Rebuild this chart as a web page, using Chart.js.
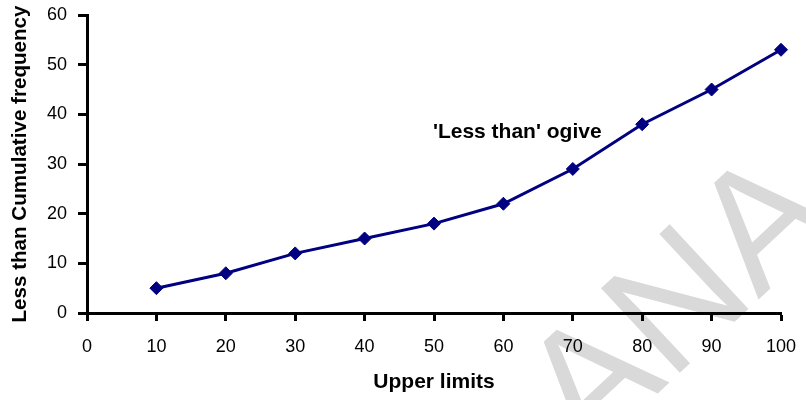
<!DOCTYPE html>
<html>
<head>
<meta charset="utf-8">
<script src="https://cdn.jsdelivr.net/npm/chart.js@4/dist/chart.umd.min.js"></script>
<style>
  html, body { margin: 0; padding: 0; background: #fff; }
  #wrap { width: 806px; height: 400px; }
</style>
</head>
<body>
<div id="wrap"><canvas id="ogive" width="806" height="400"></canvas></div>
<script>
const upperLimits = [10, 20, 30, 40, 50, 60, 70, 80, 90, 100]
const cumFreq = [5, 8, 12, 15, 18, 22, 29, 38, 45, 53]
const xTitle = 'Upper limits'
const yTitle = 'Less than Cumulative frequency'
const noteText = "'Less than' ogive"
const noteAt = { x: 62, y: 35.2 }
const watermark = 'ANA'

const ctx = document.getElementById('ogive')
const fontFam = '"Liberation Sans", Arial, sans-serif'

// grey watermark behind everything
const watermarkPlugin = {
    id: 'watermark',
    beforeDraw(chart) {
        const c = chart.ctx
        c.save()
        c.translate(714, 341)
        c.rotate(-43 * Math.PI / 180)
        c.font = '168px ' + fontFam
        c.fillStyle = '#d9d9d9'
        c.textAlign = 'center'
        c.textBaseline = 'alphabetic'
        c.fillText(watermark, 0, 0)
        c.restore()
    }
}

// the "'Less than' ogive" label
const notePlugin = {
    id: 'note',
    afterDatasetsDraw(chart) {
        const c = chart.ctx
        const x = chart.scales.x.getPixelForValue(noteAt.x)
        const y = chart.scales.y.getPixelForValue(noteAt.y)
        c.save()
        c.font = 'bold 21px ' + fontFam
        c.fillStyle = '#000'
        c.textAlign = 'center'
        c.textBaseline = 'alphabetic'
        c.fillText(noteText, x, y)
        c.restore()
    }
}

new Chart(ctx, {
    type: 'line',
    data: {
        datasets: [{
            data: upperLimits.map((u, i) => ({ x: u, y: cumFreq[i] })),
            borderColor: '#000080',
            borderWidth: 3,
            tension: 0,
            pointStyle: 'rectRot',
            pointRadius: 6.5,
            pointBackgroundColor: '#000080',
            pointBorderColor: '#000080',
            pointBorderWidth: 1,
            clip: false
        }]
    },
    options: {
        responsive: false,
        animation: false,
        layout: { autoPadding: false, padding: { left: 0, right: 25, top: 15, bottom: 0 } },
        plugins: {
            legend: { display: false },
            tooltip: { enabled: false }
        },
        scales: {
            x: {
                type: 'linear',
                min: 0,
                max: 100,
                afterFit(scale) {
                    scale.height = 87
                    scale.paddingLeft = 0
                    scale.paddingRight = 0
                },
                ticks: {
                    stepSize: 10,
                    color: '#000',
                    padding: 15,
                    maxRotation: 0,
                    font: { family: fontFam, size: 18 }
                },
                grid: {
                    drawOnChartArea: false,
                    drawTicks: true,
                    tickLength: 8,
                    tickWidth: 3,
                    tickColor: '#000'
                },
                border: { color: '#000', width: 3 },
                title: {
                    display: true,
                    text: xTitle,
                    color: '#000',
                    padding: { top: 0, bottom: 5 },
                    font: { family: fontFam, size: 21, weight: 'bold' }
                }
            },
            y: {
                min: 0,
                max: 60,
                afterFit(scale) {
                    scale.width = 87
                    scale.paddingTop = 0
                    scale.paddingBottom = 0
                },
                ticks: {
                    stepSize: 10,
                    color: '#000',
                    padding: 11,
                    font: { family: fontFam, size: 18 }
                },
                grid: {
                    drawOnChartArea: false,
                    drawTicks: true,
                    tickLength: 9,
                    tickWidth: 3,
                    tickColor: '#000'
                },
                border: { color: '#000', width: 3 },
                title: {
                    display: true,
                    text: yTitle,
                    color: '#000',
                    padding: { top: 8, bottom: 0 },
                    font: { family: fontFam, size: 20.6, weight: 'bold' }
                }
            }
        }
    },
    plugins: [watermarkPlugin, notePlugin]
});
</script>
</body>
</html>
